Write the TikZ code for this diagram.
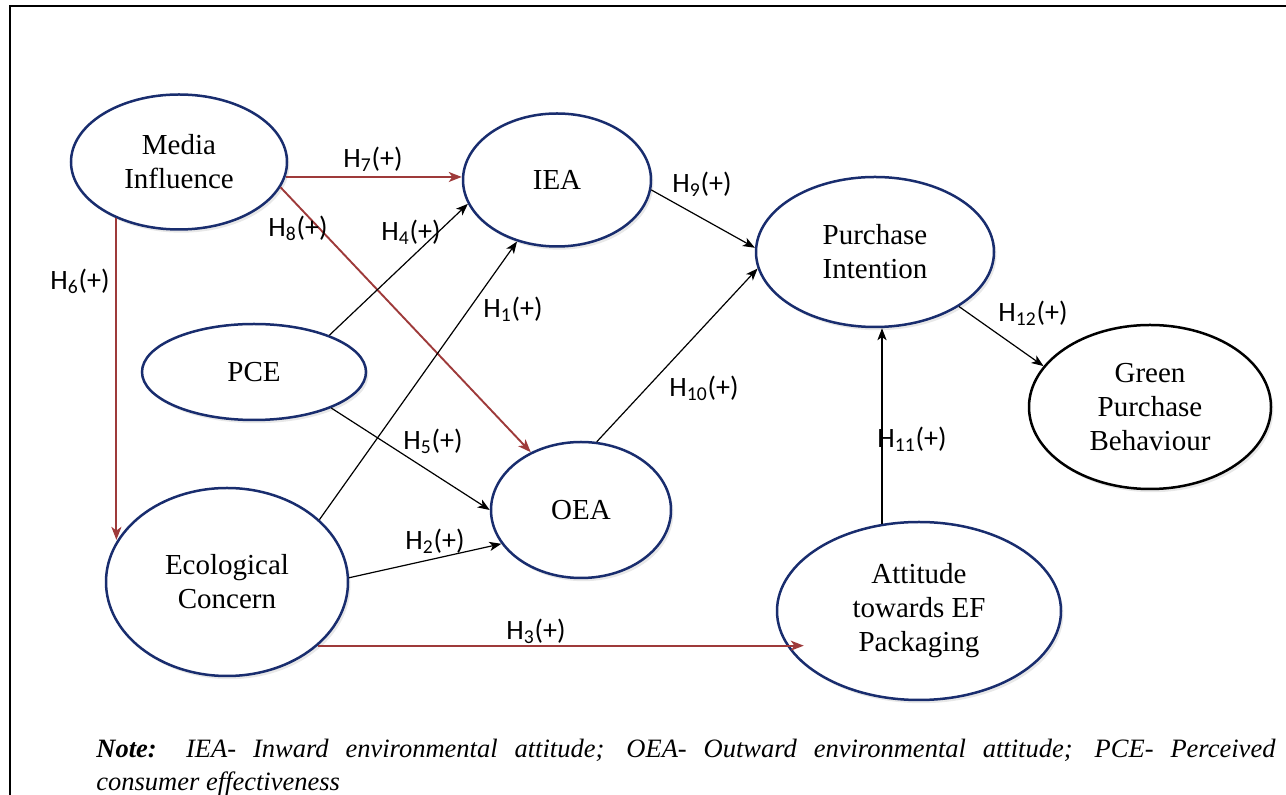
\documentclass[tikz,border=0pt]{standalone}
\usepackage{fontspec}
\setmainfont{Liberation Serif}
\newfontfamily\lblfont{Carlito}
\usetikzlibrary{shapes.geometric,arrows.meta,shadows}
\definecolor{navy}{RGB}{25,45,110}
\definecolor{hred}{RGB}{158,58,58}
\newcommand\hyp[1]{H\textsubscript{#1}(+)}
\begin{document}
\begin{tikzpicture}[x=0.5pt,y=-0.5pt,
  ell/.style={ellipse, draw=navy, line width=1.25pt, fill=white, inner sep=0pt,
    align=center, font=\fontsize{14.5}{17}\selectfont,
    drop shadow={opacity=0.18, shadow xshift=1.2pt, shadow yshift=-1.6pt}},
  lbl/.style={font=\lblfont\fontsize{14}{16}\selectfont, inner sep=0pt},
  blk/.style={draw=black, line width=0.6pt, -{Stealth[length=6pt,width=4.6pt,inset=1.6pt]}},
  redarr/.style={draw=hred, line width=0.95pt, -{Stealth[length=6.5pt,width=5pt,inset=1.8pt]}}
]
\useasboundingbox (0,0) rectangle (1286,795);
\draw[line width=1.25pt] (10,795) -- (10,6) -- (1286,6);

% constructs
\node[ell, minimum width=108pt, minimum height=67.5pt] (MI) at (179,162) {Media\\Influence};
\node[ell, minimum width=94pt, minimum height=66.5pt] (IEA) at (557,180) {IEA};
\node[ell, minimum width=112pt, minimum height=48pt] (PCE) at (254,372) {PCE};
\node[ell, minimum width=90pt, minimum height=68pt] (OEA) at (581,510) {OEA};
\node[ell, minimum width=121pt, minimum height=94pt] (EC) at (227,582) {Ecological\\Concern};
\node[ell, minimum width=119pt, minimum height=75pt] (PI) at (875,252) {Purchase\\Intention};
\node[ell, draw=black, minimum width=121pt, minimum height=82pt] (GPB) at (1150,407) {Green\\Purchase\\Behaviour};
\node[ell, minimum width=142pt, minimum height=89pt] (ATT) at (919,611) {Attitude\\towards EF\\Packaging};

% paths
\draw[redarr] (MI.-8) -- (MI.-8 -| IEA.west);
\draw[redarr] (MI.-14.4) -- (OEA.131);
\draw[redarr] (MI.222.6) -- (MI.222.6 |- EC.159.4);
\draw[blk] (PCE.26.9) -- (IEA.195.3);
\draw[blk] (EC.34.9) -- (IEA.237.3);
\draw[blk] (PCE.-25.6) -- (OEA.west);
\draw[blk] (EC.2.3) -- (OEA.203.2);
\draw[redarr] (EC.-35.3) -- ([xshift=14pt]EC.-35.3 -| ATT.west);
\draw[blk] (IEA.-6.2) -- (PI.178);
\draw[blk] (OEA.77.5) -- (PI.188.8);
\draw[blk] (ATT.113.8) -- (ATT.113.8 |- PI.south);
\draw[blk] (PI.-33.2) -- (GPB.159.1);

% labels
\node[lbl] (l1) at (513,309) {\hyp{1}};
\node[lbl] (l2) at (435,541) {\hyp{2}};
\node[lbl] (l3) at (536,631) {\hyp{3}};
\node[lbl] (l4) at (411,232) {\hyp{4}};
\node[lbl] (l5) at (433,441) {\hyp{5}};
\node[lbl] (l6) at (80,281) {\hyp{6}};
\node[lbl] (l7) at (373,159) {\hyp{7}};
\node[lbl] (l8) at (298,228) {\hyp{8}};
\node[lbl] (l9) at (702,184) {\hyp{9}};
\node[lbl] (l10) at (704,388) {\hyp{10}};
\node[lbl] (l11) at (912,439) {\hyp{11}};
\node[lbl] (l12) at (1033,313) {\hyp{12}};

% note
\node[anchor=north west, inner sep=0pt, text width=589.5pt, align=justify,
  font=\fontsize{13.25}{16.5}\selectfont\itshape] (note) at (96,739)
  {\hyphenpenalty=10000\exhyphenpenalty=10000\textbf{Note:} IEA- Inward environmental attitude; OEA- Outward environmental attitude; PCE- Perceived\linebreak consumer effectiveness};
\end{tikzpicture}
\end{document}
